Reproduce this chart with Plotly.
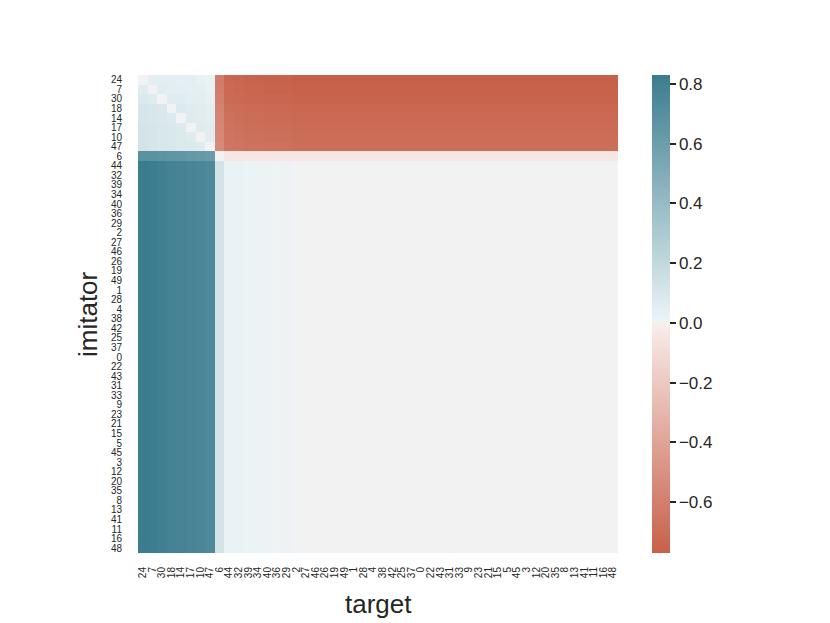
import numpy as np
import plotly.graph_objects as go

# ---------------- data ----------------
labels = [24, 7, 30, 18, 14, 17, 10, 47, 6, 44, 32, 39, 34, 40, 36, 29, 2, 27, 46,
          26, 19, 49, 1, 28, 4, 38, 42, 25, 37, 0, 22, 43, 31, 33, 9, 23, 21, 15,
          5, 45, 3, 12, 20, 35, 8, 13, 41, 11, 16, 48]

# group of the first 8 agents amongst themselves
top_block = [
    [0.00, 0.04, 0.05, 0.05, 0.04, 0.04, 0.03, 0.02],
    [0.06, 0.00, 0.06, 0.05, 0.05, 0.04, 0.04, 0.02],
    [0.08, 0.07, 0.00, 0.06, 0.06, 0.05, 0.05, 0.03],
    [0.11, 0.10, 0.09, 0.00, 0.08, 0.07, 0.06, 0.05],
    [0.11, 0.10, 0.09, 0.08, 0.00, 0.07, 0.06, 0.05],
    [0.12, 0.11, 0.10, 0.09, 0.08, 0.00, 0.07, 0.06],
    [0.12, 0.11, 0.10, 0.09, 0.08, 0.07, 0.00, 0.06],
    [0.12, 0.11, 0.10, 0.09, 0.08, 0.08, 0.07, 0.00],
]
# first 8 imitators vs the other targets (row level + column offset)
red_rows = [-0.77, -0.76, -0.75, -0.73, -0.72, -0.71, -0.70, -0.69]
red_col_offset = [0.15, 0.04, 0.03, 0.02, 0.02, 0.01, 0.01, 0.01, 0.0, 0.0, 0.0,
                  0.0, 0.0, 0.0, 0.0, 0.0, 0.0, 0.0, 0.0, 0.0, 0.0, 0.0, 0.0, 0.0,
                  0.0, 0.0, 0.0, 0.0, 0.0, 0.0, 0.0, 0.0, 0.0, 0.0, 0.0, 0.0, 0.0,
                  0.0, 0.0, 0.0, 0.0, 0.0]
# imitator 6
row6_top = [0.68, 0.68, 0.67, 0.66, 0.65, 0.64, 0.63, 0.62]
row6_rest = -0.035
# other imitators vs first 8 targets
teal_cols = [0.83, 0.82, 0.80, 0.79, 0.78, 0.77, 0.76, 0.74]
col6_rest = 0.12
# remaining block: column level + row level
rest_cols = [0.02, 0.018, 0.015, 0.012, 0.01, 0.008, 0.006, 0.004, 0.0, 0.0,
             0.0, 0.0, 0.0, 0.0, 0.0, 0.0, 0.0, 0.0, 0.0, 0.0, 0.0, 0.0, 0.0,
             0.0, 0.0, 0.0, 0.0, 0.0, 0.0, 0.0, 0.0, 0.0, 0.0, 0.0, 0.0, 0.0,
             0.0, 0.0, 0.0, 0.0, 0.0]
rest_rows = [0.0] * 41

zmin, zmax = -0.77, 0.83

# ---------------- assemble matrix ----------------
n = len(labels)
Z = np.zeros((n, n))
Z[:8, :8] = np.array(top_block)
Z[:8, 8:] = np.array(red_rows)[:, None] + np.array(red_col_offset)[None, :]
Z[8, :8] = row6_top
Z[8, 8] = 0.0
Z[8, 9:] = row6_rest
Z[9:, :8] = np.array(teal_cols)[None, :]
Z[9:, 8] = col6_rest
Z[9:, 9:] = np.array(rest_rows)[:, None] + np.array(rest_cols)[None, :]

# ---------------- colour scale (seaborn diverging 20 -> 220, centered at 0) ----
red = np.array([195, 85, 60]) / 255
blue = np.array([59, 124, 143]) / 255
gray = np.array([0.95, 0.95, 0.95])


def light(c):
    import colorsys
    h, l, s = colorsys.rgb_to_hls(*c)
    return np.array(colorsys.hls_to_rgb(h, 0.95, s))


lred, lblue = light(red), light(blue)
vr = max(zmax, -zmin)


def color_at(v):
    if v < 0:
        t = min(1.0, -v / vr)
        c = lred + (red - lred) * t
    elif v > 0:
        t = min(1.0, v / vr)
        c = lblue + (blue - lblue) * t
    else:
        c = gray
    c = np.clip(c, 0, 1) * 255
    return "rgb(%d,%d,%d)" % tuple(np.round(c).astype(int))


stops_v = [zmin, -0.4, -0.015, 0.0, 0.015, 0.4, zmax]
colorscale = [[(v - zmin) / (zmax - zmin), color_at(v)] for v in stops_v]

ticklab = [str(x) for x in labels]
tf = dict(size=10, color="#262626", family="Liberation Sans, Arial")

# page body adds an 8px offset; compensate so the plot area sits at 138..618 x 75..553
OFF = 8
L, T, PW, PH = 138 - OFF, 75 - OFF, 480, 478

fig = go.Figure(go.Heatmap(
    z=Z, x=list(range(n)), y=list(range(n)),
    zmin=zmin, zmax=zmax, colorscale=colorscale,
    colorbar=dict(
        x=(652 - 138) / PW, xanchor="left", thickness=18, xpad=0, ypad=0,
        len=1, lenmode="fraction", y=0.5, yanchor="middle",
        outlinewidth=0, ticks="outside", ticklen=6, tickwidth=1.5,
        tickcolor="#262626",
        tickvals=[-0.6, -0.4, -0.2, 0.0, 0.2, 0.4, 0.6, 0.8],
        ticktext=["\u22120.6", "\u22120.4", "\u22120.2", "0.0", "0.2", "0.4", "0.6", "0.8"],
        tickfont=dict(size=17, color="#262626", family="Liberation Sans, Arial"),
    ),
))

fig.update_xaxes(
    tickmode="array", tickvals=list(range(n)), ticktext=ticklab, tickangle=-90,
    tickfont=tf, showgrid=False, zeroline=False, showline=False,
    ticks="outside", ticklen=9, tickcolor="rgba(0,0,0,0)",
    range=[-0.5, n - 0.5], automargin=False,
)
fig.update_yaxes(
    tickmode="array", tickvals=list(range(n)), ticktext=ticklab,
    tickfont=tf, showgrid=False, zeroline=False, showline=False,
    ticks="outside", ticklen=13, tickcolor="rgba(0,0,0,0)",
    range=[n - 0.5, -0.5], automargin=False,
)

fig.update_layout(
    width=830, height=623,
    margin=dict(l=L, r=830 - L - PW, t=T, b=623 - T - PH, autoexpand=False),
    paper_bgcolor="white", plot_bgcolor="white",
    font=dict(family="Liberation Sans, Arial", color="#262626"),
    annotations=[
        dict(text="imitator", x=(88 - 138) / PW, y=0.5, xref="paper", yref="paper",
             textangle=-90, showarrow=False, font=dict(size=26, color="#262626"),
             xanchor="center", yanchor="middle"),
        dict(text="target", x=0.5, y=(553 - 604) / PH, xref="paper", yref="paper",
             showarrow=False, font=dict(size=26, color="#262626"),
             xanchor="center", yanchor="middle"),
    ],
)

fig.write_html("out.html")
